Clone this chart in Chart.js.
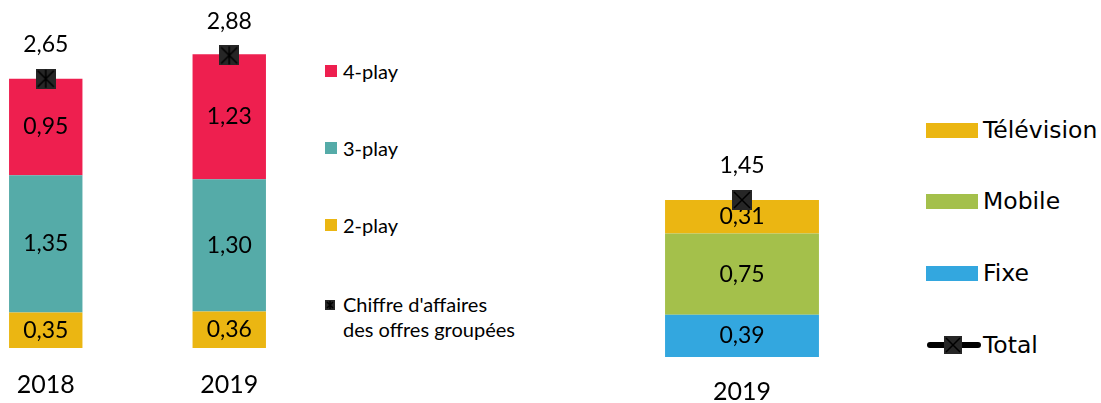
<!DOCTYPE html>
<html lang="fr">
<head>
<meta charset="utf-8">
<script src="https://cdn.jsdelivr.net/npm/chart.js@4/dist/chart.umd.min.js"></script>
<style>
  html, body { margin: 0; padding: 0; background: #fff; }
  body { width: 1101px; height: 403px; position: relative; overflow: hidden; font-family: Lato, sans-serif; color: #000; }
  .box { position: absolute; top: 0; }
  #offresBox { left: -46px; width: 367px; height: 422px; }
  #servicesBox { left: 592px; width: 300px; height: 427px; }
  .legend { position: absolute; list-style: none; margin: 0; padding: 0; }
  .legend li { position: absolute; left: 0; display: flex; align-items: flex-start; white-space: nowrap; }

  #offresLegend { left: 325px; top: 0; font-size: 20px; line-height: 25px; }
  #offresLegend .sw { width: 12px; height: 12px; margin: 6px 6px 0 0; flex: none; }
  #offresLegend li:nth-child(1) { top: 59px; }
  #offresLegend li:nth-child(2) { top: 136px; }
  #offresLegend li:nth-child(3) { top: 213px; }
  #offresLegend li:nth-child(4) { top: 292px; }
  #offresLegend li:nth-child(4) .sw { width: 10px; height: 10px; margin: 8px 8px 0 0; }

  #servicesLegend { left: 926px; top: 0; font-family: "DejaVu Sans", sans-serif; font-size: 23.5px; line-height: 28px; }
  #servicesLegend li { align-items: center; }
  #servicesLegend .sw { width: 52px; height: 15px; margin-right: 5px; flex: none; }
  #servicesLegend li:nth-child(1) { top: 116px; }
  #servicesLegend li:nth-child(2) { top: 187px; }
  #servicesLegend li:nth-child(3) { top: 259px; }
  #servicesLegend li:nth-child(4) { top: 331px; }
  #servicesLegend canvas.sw { height: 20px; width: 56px; margin-right: 1px; }
</style>
</head>
<body>
<div class="box" id="offresBox"><canvas id="offresChart"></canvas></div>
<ul class="legend" id="offresLegend"></ul>
<div class="box" id="servicesBox"><canvas id="servicesChart"></canvas></div>
<ul class="legend" id="servicesLegend"></ul>

<script>
// Chiffre d'affaires des offres groupées (Md€)
const years = ['2018', '2019'];
const twoPlay = [0.35, 0.36];
const threePlay = [1.35, 1.30];
const fourPlay = [0.95, 1.23];
const bundleTotal = [2.65, 2.88];

// Répartition par service
const serviceYears = ['2019'];
const fixe = [0.39];
const mobile = [0.75];
const television = [0.31];
const serviceTotal = [1.45];

const RED = '#EE1F4F';
const TEAL = '#55ABA8';
const GOLD = '#EBB612';
const GREEN = '#A4C04B';
const BLUE = '#33A7DF';

Chart.defaults.font.family = 'Lato, sans-serif';
Chart.defaults.color = '#000';

// black square marker with a cross (optionally a vertical stroke too)
function makeMarker(size, withBar) {
  const c = document.createElement('canvas');
  c.width = size;
  c.height = size;
  const g = c.getContext('2d');
  g.fillStyle = '#262626';
  g.fillRect(0, 0, size, size);
  g.strokeStyle = '#000';
  g.lineWidth = 1.5;
  g.beginPath();
  g.moveTo(2, 2); g.lineTo(size - 2, size - 2);
  g.moveTo(size - 2, 2); g.lineTo(2, size - 2);
  if (withBar) { g.moveTo(size / 2, 1); g.lineTo(size / 2, size - 1); }
  g.stroke();
  return c;
}

const fmt = v => v.toFixed(2).replace('.', ',');

// values in the middle of each segment, totals above the marker
const valueLabels = {
  id: 'valueLabels',
  afterDatasetDraw(chart, args) {
    const meta = args.meta;
    const ds = chart.data.datasets[args.index];
    const ctx = chart.ctx;
    ctx.save();
    ctx.font = '23px Lato, sans-serif';
    ctx.fillStyle = '#000';
    ctx.textAlign = 'center';
    ctx.textBaseline = 'middle';
    meta.data.forEach((el, i) => {
      const txt = fmt(ds.data[i]);
      if (meta.type === 'bar') {
        ctx.fillText(txt, el.x, (el.y + el.base) / 2);
      } else {
        ctx.fillText(txt, el.x, el.y - 34);
      }
    });
    ctx.restore();
  }
};

function baseOptions(yMax, tickPad) {
  return {
    responsive: true,
    maintainAspectRatio: false,
    animation: false,
    layout: { padding: 0, autoPadding: false },
    plugins: { legend: { display: false }, tooltip: { enabled: false } },
    scales: {
      x: {
        stacked: true,
        grid: { display: false, drawTicks: false },
        border: { display: false },
        ticks: { padding: tickPad, font: { size: 25, lineHeight: 1 }, color: '#000' }
      },
      y: { stacked: true, display: false, min: 0, max: yMax }
    }
  };
}

const offresChart = new Chart(document.getElementById('offresChart'), {
  type: 'bar',
  data: {
    labels: years,
    datasets: [
      {
        type: 'line', label: ["Chiffre d'affaires", 'des offres groupées'], data: bundleTotal,
        stack: 'total', order: -1, showLine: false,
        pointStyle: makeMarker(20, true)
      },
      { label: '2-play', data: twoPlay, backgroundColor: GOLD, barPercentage: 0.4, categoryPercentage: 1 },
      { label: '3-play', data: threePlay, backgroundColor: TEAL, barPercentage: 0.4, categoryPercentage: 1 },
      { label: '4-play', data: fourPlay, backgroundColor: RED, barPercentage: 0.4, categoryPercentage: 1 }
    ]
  },
  options: baseOptions(3.425, 24.5),
  plugins: [valueLabels]
});

const servicesChart = new Chart(document.getElementById('servicesChart'), {
  type: 'bar',
  data: {
    labels: serviceYears,
    datasets: [
      {
        type: 'line', label: 'Total', data: serviceTotal,
        stack: 'total', order: -1, showLine: false,
        pointStyle: makeMarker(20, false)
      },
      { label: 'Fixe', data: fixe, backgroundColor: BLUE, barPercentage: 0.513, categoryPercentage: 1 },
      { label: 'Mobile', data: mobile, backgroundColor: GREEN, barPercentage: 0.513, categoryPercentage: 1 },
      { label: 'Télévision', data: television, backgroundColor: GOLD, barPercentage: 0.513, categoryPercentage: 1 }
    ]
  },
  options: baseOptions(3.296, 22.5),
  plugins: [valueLabels]
});

// legend lists: bar series top-down, then the total
function buildLegend(chart, listId, totalSwatch) {
  const list = document.getElementById(listId);
  const sets = chart.data.datasets;
  const bars = sets.filter(d => d.type !== 'line').reverse();
  const line = sets.find(d => d.type === 'line');
  bars.forEach(d => {
    const li = document.createElement('li');
    const sw = document.createElement('span');
    sw.className = 'sw';
    sw.style.background = d.backgroundColor;
    li.appendChild(sw);
    li.appendChild(document.createTextNode(d.label));
    list.appendChild(li);
  });
  const li = document.createElement('li');
  const sw = totalSwatch();
  sw.className = 'sw';
  li.appendChild(sw);
  const txt = document.createElement('span');
  txt.innerHTML = [].concat(line.label).join('<br>');
  li.appendChild(txt);
  list.appendChild(li);
}

buildLegend(offresChart, 'offresLegend', () => makeMarker(10, true));

buildLegend(servicesChart, 'servicesLegend', () => {
  const c = document.createElement('canvas');
  c.width = 56;
  c.height = 20;
  const g = c.getContext('2d');
  g.strokeStyle = '#000';
  g.lineWidth = 6;
  g.lineCap = 'round';
  g.beginPath();
  g.moveTo(4, 10);
  g.lineTo(52, 10);
  g.stroke();
  g.drawImage(makeMarker(18, false), 18, 1);
  return c;
});
</script>
</body>
</html>
